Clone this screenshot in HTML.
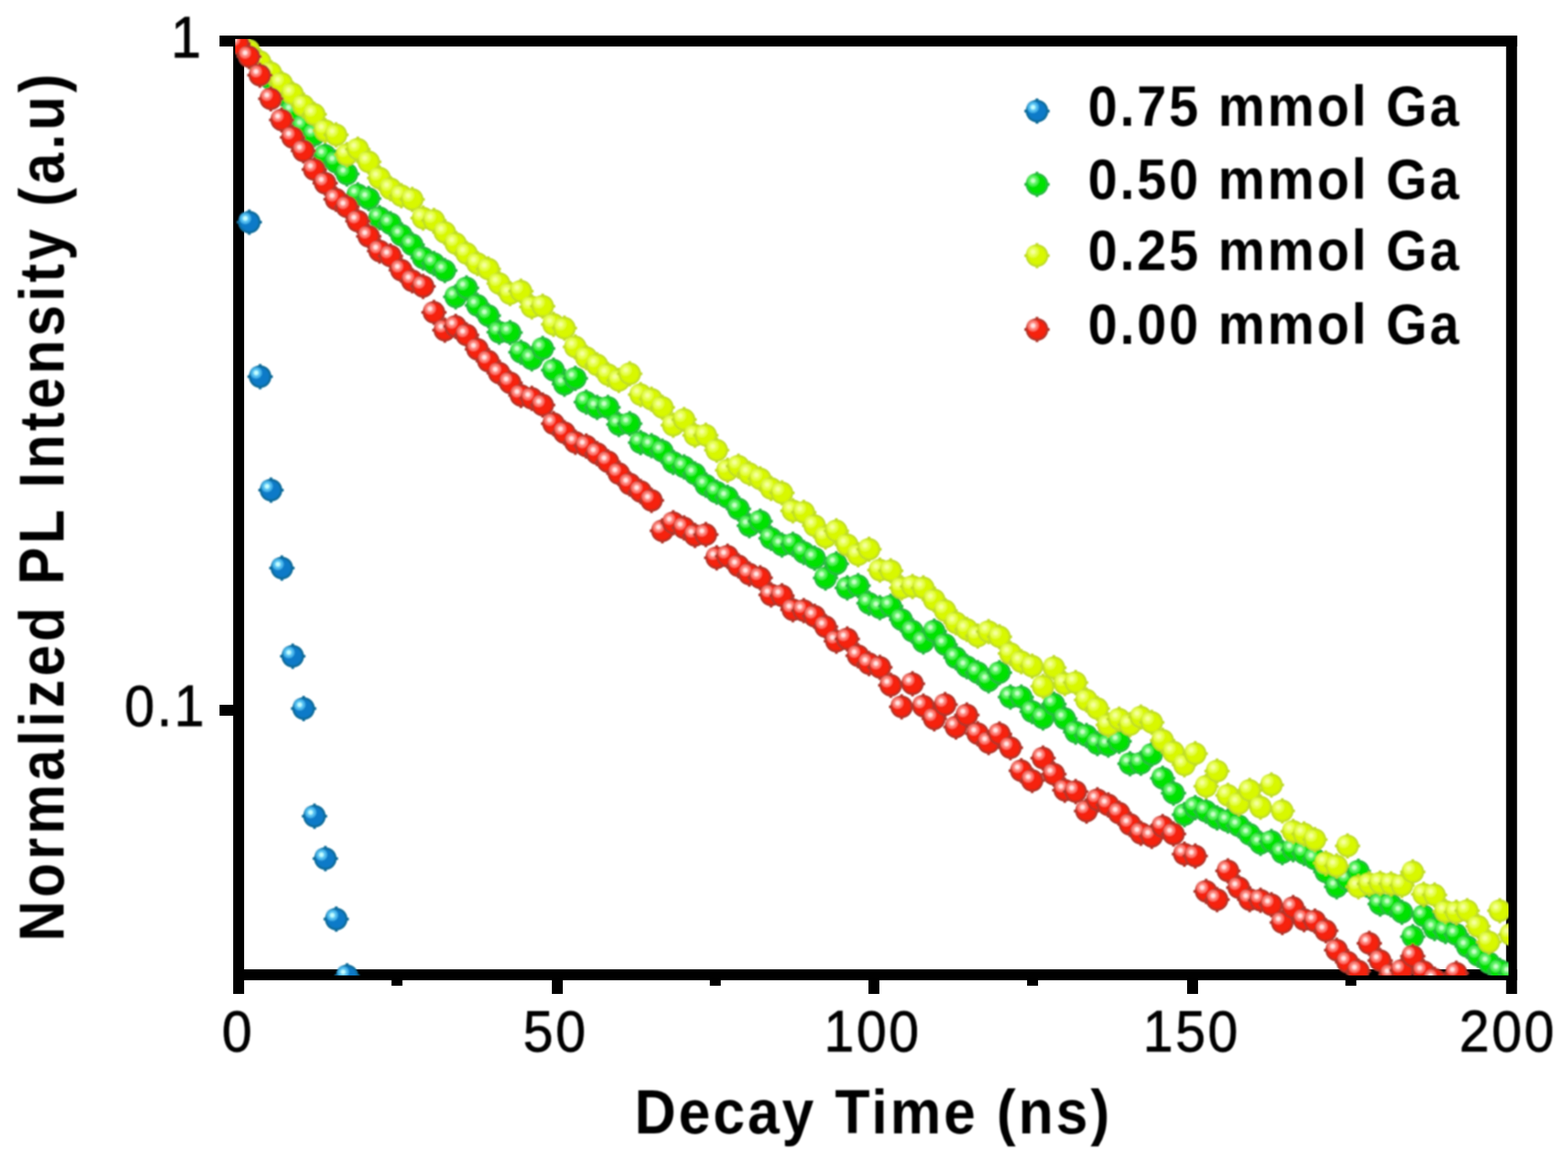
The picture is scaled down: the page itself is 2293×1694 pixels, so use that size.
<!DOCTYPE html>
<html lang="en">
<head>
<meta charset="utf-8">
<title>Normalized PL Intensity vs Decay Time</title>
<style>
html,body{margin:0;padding:0;background:#fff;}
body{width:2293px;height:1694px;overflow:hidden;}
svg{display:block;}
text{font-family:"Liberation Sans",Arial,Helvetica,sans-serif;fill:#000;}
.tick{font-size:85px;letter-spacing:3.7px;stroke:#000;stroke-width:1px;}
.title{font-weight:bold;}
#yt{stroke:none;}
#xt{stroke:none;}
.leg{font-size:83px;font-weight:bold;letter-spacing:4.0px;}
</style>
</head>
<body>
<svg width="2293" height="1694" viewBox="0 0 2293 1694">
<defs>
<radialGradient id="bB" cx="50%" cy="50%" r="50%">
<stop offset="0" stop-color="#0a7ac8"/><stop offset="0.72" stop-color="#0a7ac8"/><stop offset="0.9" stop-color="#086a98"/><stop offset="1" stop-color="#086a98"/>
</radialGradient>
<radialGradient id="hB" cx="50%" cy="50%" r="50%">
<stop offset="0" stop-color="#c4ffff"/><stop offset="0.2" stop-color="#c4ffff"/><stop offset="0.45" stop-color="#58c4f4"/><stop offset="0.7" stop-color="#58c4f4" stop-opacity="0.75"/><stop offset="1" stop-color="#0a7ac8" stop-opacity="0"/>
</radialGradient>
<g id="mB"><path d="M-2 -18.5h4v4h-4zM-2 14.5h4v4h-4zM-18.5 -2h4v4h-4zM14.5 -2h4v4h-4z" fill="#086a98"/><circle r="16.5" fill="url(#bB)"/><circle cx="-5.8" cy="-5.6" r="10.5" fill="url(#hB)"/></g>
<radialGradient id="bG" cx="50%" cy="50%" r="50%">
<stop offset="0" stop-color="#04e204"/><stop offset="0.72" stop-color="#04e204"/><stop offset="0.9" stop-color="#28b840"/><stop offset="1" stop-color="#28b840"/>
</radialGradient>
<radialGradient id="hG" cx="50%" cy="50%" r="50%">
<stop offset="0" stop-color="#c8ffc8"/><stop offset="0.2" stop-color="#c8ffc8"/><stop offset="0.45" stop-color="#62f468"/><stop offset="0.7" stop-color="#62f468" stop-opacity="0.75"/><stop offset="1" stop-color="#04e204" stop-opacity="0"/>
</radialGradient>
<g id="mG"><path d="M-2 -18.5h4v4h-4zM-2 14.5h4v4h-4zM-18.5 -2h4v4h-4zM14.5 -2h4v4h-4z" fill="#28b840"/><circle r="16.5" fill="url(#bG)"/><circle cx="-5.8" cy="-5.6" r="10.5" fill="url(#hG)"/></g>
<radialGradient id="bY" cx="50%" cy="50%" r="50%">
<stop offset="0" stop-color="#d8f804"/><stop offset="0.72" stop-color="#d8f804"/><stop offset="0.9" stop-color="#c0dc28"/><stop offset="1" stop-color="#c0dc28"/>
</radialGradient>
<radialGradient id="hY" cx="50%" cy="50%" r="50%">
<stop offset="0" stop-color="#f6ff9c"/><stop offset="0.2" stop-color="#f6ff9c"/><stop offset="0.45" stop-color="#e8ff58"/><stop offset="0.7" stop-color="#e8ff58" stop-opacity="0.75"/><stop offset="1" stop-color="#d8f804" stop-opacity="0"/>
</radialGradient>
<g id="mY"><path d="M-2 -18.5h4v4h-4zM-2 14.5h4v4h-4zM-18.5 -2h4v4h-4zM14.5 -2h4v4h-4z" fill="#c0dc28"/><circle r="16.5" fill="url(#bY)"/><circle cx="-5.8" cy="-5.6" r="10.5" fill="url(#hY)"/></g>
<radialGradient id="bR" cx="50%" cy="50%" r="50%">
<stop offset="0" stop-color="#f6200e"/><stop offset="0.72" stop-color="#f6200e"/><stop offset="0.9" stop-color="#b0362a"/><stop offset="1" stop-color="#b0362a"/>
</radialGradient>
<radialGradient id="hR" cx="50%" cy="50%" r="50%">
<stop offset="0" stop-color="#ffe6e4"/><stop offset="0.2" stop-color="#ffe6e4"/><stop offset="0.45" stop-color="#ff8a82"/><stop offset="0.7" stop-color="#ff8a82" stop-opacity="0.75"/><stop offset="1" stop-color="#f6200e" stop-opacity="0"/>
</radialGradient>
<g id="mR"><path d="M-2 -18.5h4v4h-4zM-2 14.5h4v4h-4zM-18.5 -2h4v4h-4zM14.5 -2h4v4h-4z" fill="#b0362a"/><circle r="16.5" fill="url(#bR)"/><circle cx="-5.8" cy="-5.6" r="10.5" fill="url(#hR)"/></g>
<clipPath id="plot"><rect x="344" y="57" width="1862" height="1370"/></clipPath>
<filter id="ft" x="-5%" y="-5%" width="110%" height="110%"><feGaussianBlur stdDeviation="1.1"/></filter>
<filter id="fd" x="-5%" y="-5%" width="110%" height="110%"><feGaussianBlur stdDeviation="1.0"/></filter>
</defs>
<rect x="0" y="0" width="2293" height="1694" fill="#ffffff"/>
<g id="axes" fill="#000">
<rect x="341" y="52" width="16" height="1402"/>
<rect x="2202.5" y="52" width="16" height="1402"/>
<rect x="321" y="52" width="1897.5" height="16"/>
<rect x="341" y="1418" width="1877.5" height="16"/>
<rect x="321" y="1031" width="22" height="16"/>
<rect x="807" y="1430" width="16" height="24"/>
<rect x="1270" y="1430" width="16" height="24"/>
<rect x="1736" y="1430" width="16" height="24"/>
<rect x="572.5" y="1430" width="16" height="12"/>
<rect x="1038" y="1430" width="16" height="12"/>
<rect x="1502" y="1430" width="16" height="12"/>
<rect x="1967.5" y="1430" width="16" height="12"/>
</g>
<g id="labels" filter="url(#ft)">
<text class="tick" id="t1" transform="translate(250 83.5) scale(0.93 1)">1</text>
<text class="tick" id="t01" transform="translate(182 1062) scale(0.93 1)">0.1</text>
<text class="tick" id="x0" transform="translate(324.5 1537.5) scale(0.93 1)">0</text>
<text class="tick" id="x50" transform="translate(765 1537.5) scale(0.93 1)">50</text>
<text class="tick" id="x100" transform="translate(1205 1537.5) scale(0.93 1)">100</text>
<text class="tick" id="x150" transform="translate(1671.5 1537.5) scale(0.93 1)">150</text>
<text class="tick" id="x200" transform="translate(2134 1537.5) scale(0.93 1)">200</text>
<text class="title" id="xt" font-size="91" letter-spacing="4.2" transform="translate(928 1657.5) scale(0.92 1)">Decay Time (ns)</text>
<text class="title" id="yt" font-size="93" letter-spacing="5.98" transform="translate(93 1377) rotate(-90) scale(0.88 1)">Normalized PL Intensity (a.u)</text>
</g>
<g id="data" clip-path="url(#plot)"><g filter="url(#fd)">
<g id="s075">
<use href="#mB" x="348.6" y="60"/>
<use href="#mB" x="364.5" y="325.0"/>
<use href="#mB" x="380.4" y="551.0"/>
<use href="#mB" x="396.3" y="717.0"/>
<use href="#mB" x="412.2" y="831.0"/>
<use href="#mB" x="428.1" y="960.0"/>
<use href="#mB" x="444.0" y="1036.5"/>
<use href="#mB" x="459.9" y="1194.0"/>
<use href="#mB" x="475.8" y="1256.0"/>
<use href="#mB" x="491.7" y="1344.5"/>
<use href="#mB" x="507.6" y="1427.5"/>
</g>
<g id="s050">
<use href="#mG" x="348.3" y="63.2"/>
<use href="#mG" x="364.2" y="75.9"/>
<use href="#mG" x="380.1" y="94.6"/>
<use href="#mG" x="396.0" y="115.5"/>
<use href="#mG" x="411.9" y="137.3"/>
<use href="#mG" x="427.8" y="162.7"/>
<use href="#mG" x="443.7" y="184.5"/>
<use href="#mG" x="459.6" y="197.2"/>
<use href="#mG" x="475.5" y="227.2"/>
<use href="#mG" x="491.4" y="237.2"/>
<use href="#mG" x="507.3" y="254.5"/>
<use href="#mG" x="523.3" y="284.9"/>
<use href="#mG" x="539.2" y="290.4"/>
<use href="#mG" x="555.1" y="318.5"/>
<use href="#mG" x="571.0" y="327.2"/>
<use href="#mG" x="586.9" y="343.9"/>
<use href="#mG" x="602.8" y="358.1"/>
<use href="#mG" x="618.7" y="377.2"/>
<use href="#mG" x="634.6" y="385.4"/>
<use href="#mG" x="650.5" y="395.8"/>
<use href="#mG" x="666.4" y="434.3"/>
<use href="#mG" x="682.3" y="421.2"/>
<use href="#mG" x="698.2" y="446.8"/>
<use href="#mG" x="714.1" y="461.7"/>
<use href="#mG" x="730.0" y="486.0"/>
<use href="#mG" x="745.9" y="486.4"/>
<use href="#mG" x="761.8" y="515.2"/>
<use href="#mG" x="777.7" y="525.0"/>
<use href="#mG" x="793.6" y="509.8"/>
<use href="#mG" x="809.5" y="541.4"/>
<use href="#mG" x="825.4" y="562.1"/>
<use href="#mG" x="841.4" y="553.4"/>
<use href="#mG" x="857.3" y="588.2"/>
<use href="#mG" x="873.2" y="595.9"/>
<use href="#mG" x="889.1" y="595.9"/>
<use href="#mG" x="905.0" y="620.9"/>
<use href="#mG" x="920.9" y="619.8"/>
<use href="#mG" x="936.8" y="647.6"/>
<use href="#mG" x="952.7" y="651.9"/>
<use href="#mG" x="968.6" y="660.1"/>
<use href="#mG" x="984.5" y="676.4"/>
<use href="#mG" x="1000.4" y="683.0"/>
<use href="#mG" x="1016.3" y="693.3"/>
<use href="#mG" x="1032.2" y="709.7"/>
<use href="#mG" x="1048.1" y="720.0"/>
<use href="#mG" x="1064.0" y="727.6"/>
<use href="#mG" x="1079.9" y="744.5"/>
<use href="#mG" x="1095.8" y="769.0"/>
<use href="#mG" x="1111.7" y="762.5"/>
<use href="#mG" x="1127.6" y="787.5"/>
<use href="#mG" x="1143.5" y="797.3"/>
<use href="#mG" x="1159.5" y="796.2"/>
<use href="#mG" x="1175.4" y="808.2"/>
<use href="#mG" x="1191.3" y="816.5"/>
<use href="#mG" x="1207.2" y="845.4"/>
<use href="#mG" x="1223.1" y="824.7"/>
<use href="#mG" x="1239.0" y="860.1"/>
<use href="#mG" x="1254.9" y="856.8"/>
<use href="#mG" x="1270.8" y="882.4"/>
<use href="#mG" x="1286.7" y="889.0"/>
<use href="#mG" x="1302.6" y="886.8"/>
<use href="#mG" x="1318.5" y="906.4"/>
<use href="#mG" x="1334.4" y="923.3"/>
<use href="#mG" x="1350.3" y="939.1"/>
<use href="#mG" x="1366.2" y="923.3"/>
<use href="#mG" x="1382.1" y="942.9"/>
<use href="#mG" x="1398.0" y="962.1"/>
<use href="#mG" x="1413.9" y="975.2"/>
<use href="#mG" x="1429.8" y="983.9"/>
<use href="#mG" x="1445.7" y="995.9"/>
<use href="#mG" x="1461.6" y="983.9"/>
<use href="#mG" x="1477.6" y="1019.8"/>
<use href="#mG" x="1493.5" y="1019.8"/>
<use href="#mG" x="1509.4" y="1041.0"/>
<use href="#mG" x="1525.3" y="1050.3"/>
<use href="#mG" x="1541.2" y="1030.1"/>
<use href="#mG" x="1557.1" y="1051.3"/>
<use href="#mG" x="1573.0" y="1071.0"/>
<use href="#mG" x="1588.9" y="1075.9"/>
<use href="#mG" x="1604.8" y="1087.8"/>
<use href="#mG" x="1620.7" y="1090.0"/>
<use href="#mG" x="1636.6" y="1084.6"/>
<use href="#mG" x="1652.5" y="1117.3"/>
<use href="#mG" x="1668.4" y="1116.6"/>
<use href="#mG" x="1684.3" y="1103.6"/>
<use href="#mG" x="1700.2" y="1138.4"/>
<use href="#mG" x="1716.1" y="1160.2"/>
<use href="#mG" x="1732.0" y="1191.8"/>
<use href="#mG" x="1747.9" y="1181.4"/>
<use href="#mG" x="1763.8" y="1186.8"/>
<use href="#mG" x="1779.8" y="1196.6"/>
<use href="#mG" x="1795.7" y="1201.0"/>
<use href="#mG" x="1811.6" y="1208.1"/>
<use href="#mG" x="1827.5" y="1220.6"/>
<use href="#mG" x="1843.4" y="1233.7"/>
<use href="#mG" x="1859.3" y="1231.0"/>
<use href="#mG" x="1875.2" y="1247.3"/>
<use href="#mG" x="1891.1" y="1242.9"/>
<use href="#mG" x="1907.0" y="1248.4"/>
<use href="#mG" x="1922.9" y="1256.6"/>
<use href="#mG" x="1938.8" y="1275.6"/>
<use href="#mG" x="1954.7" y="1297.3"/>
<use href="#mG" x="1970.6" y="1286.4"/>
<use href="#mG" x="1986.5" y="1274.5"/>
<use href="#mG" x="2002.4" y="1297.3"/>
<use href="#mG" x="2018.3" y="1322.4"/>
<use href="#mG" x="2034.2" y="1323.5"/>
<use href="#mG" x="2050.1" y="1334.4"/>
<use href="#mG" x="2066.0" y="1370.3"/>
<use href="#mG" x="2081.9" y="1339.8"/>
<use href="#mG" x="2097.9" y="1358.3"/>
<use href="#mG" x="2113.8" y="1362.7"/>
<use href="#mG" x="2129.7" y="1367.1"/>
<use href="#mG" x="2145.6" y="1384.5"/>
<use href="#mG" x="2161.5" y="1397.6"/>
<use href="#mG" x="2177.4" y="1408.5"/>
<use href="#mG" x="2193.3" y="1419.4"/>
<use href="#mG" x="2209.2" y="1423.7"/>
</g>
<g id="s025">
<use href="#mY" x="348.3" y="62.9"/>
<use href="#mY" x="364.2" y="73.8"/>
<use href="#mY" x="380.1" y="90.1"/>
<use href="#mY" x="396.0" y="106.4"/>
<use href="#mY" x="411.9" y="121.9"/>
<use href="#mY" x="427.8" y="137.3"/>
<use href="#mY" x="443.7" y="154.6"/>
<use href="#mY" x="459.6" y="167.3"/>
<use href="#mY" x="475.5" y="190.9"/>
<use href="#mY" x="491.4" y="197.2"/>
<use href="#mY" x="507.3" y="226.3"/>
<use href="#mY" x="523.3" y="218.2"/>
<use href="#mY" x="539.2" y="236.8"/>
<use href="#mY" x="555.1" y="260.4"/>
<use href="#mY" x="571.0" y="275.9"/>
<use href="#mY" x="586.9" y="286.3"/>
<use href="#mY" x="602.8" y="291.7"/>
<use href="#mY" x="618.7" y="319.1"/>
<use href="#mY" x="634.6" y="322.6"/>
<use href="#mY" x="650.5" y="339.9"/>
<use href="#mY" x="666.4" y="356.3"/>
<use href="#mY" x="682.3" y="370.8"/>
<use href="#mY" x="698.2" y="385.4"/>
<use href="#mY" x="714.1" y="393.5"/>
<use href="#mY" x="730.0" y="414.7"/>
<use href="#mY" x="745.9" y="429.6"/>
<use href="#mY" x="761.8" y="426.1"/>
<use href="#mY" x="777.7" y="448.9"/>
<use href="#mY" x="793.6" y="447.9"/>
<use href="#mY" x="809.5" y="474.6"/>
<use href="#mY" x="825.4" y="480.1"/>
<use href="#mY" x="841.4" y="507.6"/>
<use href="#mY" x="857.3" y="522.9"/>
<use href="#mY" x="873.2" y="533.8"/>
<use href="#mY" x="889.1" y="547.9"/>
<use href="#mY" x="905.0" y="556.6"/>
<use href="#mY" x="920.9" y="546.8"/>
<use href="#mY" x="936.8" y="577.3"/>
<use href="#mY" x="952.7" y="583.9"/>
<use href="#mY" x="968.6" y="595.9"/>
<use href="#mY" x="984.5" y="622.0"/>
<use href="#mY" x="1000.4" y="613.8"/>
<use href="#mY" x="1016.3" y="636.7"/>
<use href="#mY" x="1032.2" y="636.7"/>
<use href="#mY" x="1048.1" y="658.5"/>
<use href="#mY" x="1064.0" y="687.9"/>
<use href="#mY" x="1079.9" y="681.9"/>
<use href="#mY" x="1095.8" y="692.8"/>
<use href="#mY" x="1111.7" y="700.4"/>
<use href="#mY" x="1127.6" y="714.5"/>
<use href="#mY" x="1143.5" y="721.1"/>
<use href="#mY" x="1159.5" y="747.2"/>
<use href="#mY" x="1175.4" y="749.4"/>
<use href="#mY" x="1191.3" y="769.0"/>
<use href="#mY" x="1207.2" y="785.5"/>
<use href="#mY" x="1223.1" y="776.6"/>
<use href="#mY" x="1239.0" y="796.9"/>
<use href="#mY" x="1254.9" y="811.6"/>
<use href="#mY" x="1270.8" y="803.5"/>
<use href="#mY" x="1286.7" y="834.0"/>
<use href="#mY" x="1302.6" y="835.0"/>
<use href="#mY" x="1318.5" y="860.1"/>
<use href="#mY" x="1334.4" y="857.9"/>
<use href="#mY" x="1350.3" y="860.1"/>
<use href="#mY" x="1366.2" y="877.5"/>
<use href="#mY" x="1382.1" y="893.3"/>
<use href="#mY" x="1398.0" y="910.9"/>
<use href="#mY" x="1413.9" y="920.7"/>
<use href="#mY" x="1429.8" y="930.5"/>
<use href="#mY" x="1445.7" y="924.0"/>
<use href="#mY" x="1461.6" y="931.6"/>
<use href="#mY" x="1477.6" y="956.0"/>
<use href="#mY" x="1493.5" y="968.0"/>
<use href="#mY" x="1509.4" y="974.5"/>
<use href="#mY" x="1525.3" y="1004.0"/>
<use href="#mY" x="1541.2" y="976.7"/>
<use href="#mY" x="1557.1" y="1000.1"/>
<use href="#mY" x="1573.0" y="998.5"/>
<use href="#mY" x="1588.9" y="1024.1"/>
<use href="#mY" x="1604.8" y="1036.6"/>
<use href="#mY" x="1620.7" y="1060.6"/>
<use href="#mY" x="1636.6" y="1051.9"/>
<use href="#mY" x="1652.5" y="1060.1"/>
<use href="#mY" x="1668.4" y="1049.1"/>
<use href="#mY" x="1684.3" y="1056.7"/>
<use href="#mY" x="1700.2" y="1082.9"/>
<use href="#mY" x="1716.1" y="1100.3"/>
<use href="#mY" x="1732.0" y="1118.8"/>
<use href="#mY" x="1747.9" y="1102.5"/>
<use href="#mY" x="1763.8" y="1150.3"/>
<use href="#mY" x="1779.8" y="1128.0"/>
<use href="#mY" x="1795.7" y="1163.4"/>
<use href="#mY" x="1811.6" y="1175.4"/>
<use href="#mY" x="1827.5" y="1156.3"/>
<use href="#mY" x="1843.4" y="1180.8"/>
<use href="#mY" x="1859.3" y="1148.2"/>
<use href="#mY" x="1875.2" y="1186.3"/>
<use href="#mY" x="1891.1" y="1216.2"/>
<use href="#mY" x="1907.0" y="1220.1"/>
<use href="#mY" x="1922.9" y="1228.2"/>
<use href="#mY" x="1938.8" y="1262.5"/>
<use href="#mY" x="1954.7" y="1266.8"/>
<use href="#mY" x="1970.6" y="1237.4"/>
<use href="#mY" x="1986.5" y="1297.3"/>
<use href="#mY" x="2002.4" y="1293.0"/>
<use href="#mY" x="2018.3" y="1291.9"/>
<use href="#mY" x="2034.2" y="1293.0"/>
<use href="#mY" x="2050.1" y="1295.2"/>
<use href="#mY" x="2066.0" y="1275.6"/>
<use href="#mY" x="2081.9" y="1308.2"/>
<use href="#mY" x="2097.9" y="1309.3"/>
<use href="#mY" x="2113.8" y="1333.3"/>
<use href="#mY" x="2129.7" y="1334.4"/>
<use href="#mY" x="2145.6" y="1332.2"/>
<use href="#mY" x="2161.5" y="1355.1"/>
<use href="#mY" x="2177.4" y="1378.0"/>
<use href="#mY" x="2193.3" y="1332.2"/>
<use href="#mY" x="2209.2" y="1367.1"/>
</g>
<g id="s000">
<use href="#mR" x="348.3" y="63.8"/>
<use href="#mR" x="364.2" y="82.8"/>
<use href="#mR" x="380.1" y="110.1"/>
<use href="#mR" x="396.0" y="144.6"/>
<use href="#mR" x="411.9" y="175.4"/>
<use href="#mR" x="427.8" y="200.9"/>
<use href="#mR" x="443.7" y="220.8"/>
<use href="#mR" x="459.6" y="248.1"/>
<use href="#mR" x="475.5" y="268.0"/>
<use href="#mR" x="491.4" y="291.6"/>
<use href="#mR" x="507.3" y="302.6"/>
<use href="#mR" x="523.3" y="323.5"/>
<use href="#mR" x="539.2" y="345.8"/>
<use href="#mR" x="555.1" y="367.2"/>
<use href="#mR" x="571.0" y="374.5"/>
<use href="#mR" x="586.9" y="395.3"/>
<use href="#mR" x="602.8" y="410.8"/>
<use href="#mR" x="618.7" y="418.9"/>
<use href="#mR" x="634.6" y="457.1"/>
<use href="#mR" x="650.5" y="483.1"/>
<use href="#mR" x="666.4" y="477.6"/>
<use href="#mR" x="682.3" y="490.0"/>
<use href="#mR" x="698.2" y="510.9"/>
<use href="#mR" x="714.1" y="528.3"/>
<use href="#mR" x="730.0" y="545.7"/>
<use href="#mR" x="745.9" y="559.9"/>
<use href="#mR" x="761.8" y="578.4"/>
<use href="#mR" x="777.7" y="582.8"/>
<use href="#mR" x="793.6" y="592.6"/>
<use href="#mR" x="809.5" y="619.8"/>
<use href="#mR" x="825.4" y="632.9"/>
<use href="#mR" x="841.4" y="647.1"/>
<use href="#mR" x="857.3" y="652.5"/>
<use href="#mR" x="873.2" y="663.4"/>
<use href="#mR" x="889.1" y="675.4"/>
<use href="#mR" x="905.0" y="692.8"/>
<use href="#mR" x="920.9" y="708.0"/>
<use href="#mR" x="936.8" y="718.9"/>
<use href="#mR" x="952.7" y="732.0"/>
<use href="#mR" x="968.6" y="776.6"/>
<use href="#mR" x="984.5" y="764.7"/>
<use href="#mR" x="1000.4" y="772.3"/>
<use href="#mR" x="1016.3" y="783.2"/>
<use href="#mR" x="1032.2" y="782.1"/>
<use href="#mR" x="1048.1" y="815.9"/>
<use href="#mR" x="1064.0" y="813.7"/>
<use href="#mR" x="1079.9" y="827.8"/>
<use href="#mR" x="1095.8" y="839.8"/>
<use href="#mR" x="1111.7" y="845.3"/>
<use href="#mR" x="1127.6" y="870.3"/>
<use href="#mR" x="1143.5" y="871.4"/>
<use href="#mR" x="1159.5" y="892.1"/>
<use href="#mR" x="1175.4" y="893.2"/>
<use href="#mR" x="1191.3" y="901.5"/>
<use href="#mR" x="1207.2" y="916.8"/>
<use href="#mR" x="1223.1" y="938.0"/>
<use href="#mR" x="1239.0" y="934.7"/>
<use href="#mR" x="1254.9" y="959.2"/>
<use href="#mR" x="1270.8" y="970.8"/>
<use href="#mR" x="1286.7" y="976.2"/>
<use href="#mR" x="1302.6" y="1002.4"/>
<use href="#mR" x="1318.5" y="1034.0"/>
<use href="#mR" x="1334.4" y="1000.2"/>
<use href="#mR" x="1350.3" y="1032.9"/>
<use href="#mR" x="1366.2" y="1051.4"/>
<use href="#mR" x="1382.1" y="1030.7"/>
<use href="#mR" x="1398.0" y="1063.4"/>
<use href="#mR" x="1413.9" y="1046.0"/>
<use href="#mR" x="1429.8" y="1073.2"/>
<use href="#mR" x="1445.7" y="1086.3"/>
<use href="#mR" x="1461.6" y="1073.7"/>
<use href="#mR" x="1477.6" y="1093.8"/>
<use href="#mR" x="1493.5" y="1127.6"/>
<use href="#mR" x="1509.4" y="1141.8"/>
<use href="#mR" x="1525.3" y="1109.1"/>
<use href="#mR" x="1541.2" y="1132.5"/>
<use href="#mR" x="1557.1" y="1155.9"/>
<use href="#mR" x="1573.0" y="1158.0"/>
<use href="#mR" x="1588.9" y="1186.4"/>
<use href="#mR" x="1604.8" y="1170.0"/>
<use href="#mR" x="1620.7" y="1177.6"/>
<use href="#mR" x="1636.6" y="1189.6"/>
<use href="#mR" x="1652.5" y="1206.0"/>
<use href="#mR" x="1668.4" y="1219.0"/>
<use href="#mR" x="1684.3" y="1223.4"/>
<use href="#mR" x="1700.2" y="1209.2"/>
<use href="#mR" x="1716.1" y="1220.1"/>
<use href="#mR" x="1732.0" y="1249.5"/>
<use href="#mR" x="1747.9" y="1252.2"/>
<use href="#mR" x="1763.8" y="1303.9"/>
<use href="#mR" x="1779.8" y="1315.9"/>
<use href="#mR" x="1795.7" y="1274.0"/>
<use href="#mR" x="1811.6" y="1298.5"/>
<use href="#mR" x="1827.5" y="1315.9"/>
<use href="#mR" x="1843.4" y="1316.9"/>
<use href="#mR" x="1859.3" y="1323.5"/>
<use href="#mR" x="1875.2" y="1349.6"/>
<use href="#mR" x="1891.1" y="1327.8"/>
<use href="#mR" x="1907.0" y="1345.3"/>
<use href="#mR" x="1922.9" y="1347.5"/>
<use href="#mR" x="1938.8" y="1361.6"/>
<use href="#mR" x="1954.7" y="1389.9"/>
<use href="#mR" x="1970.6" y="1407.4"/>
<use href="#mR" x="1986.5" y="1420.4"/>
<use href="#mR" x="2002.4" y="1380.1"/>
<use href="#mR" x="2018.3" y="1405.2"/>
<use href="#mR" x="2034.2" y="1425.9"/>
<use href="#mR" x="2050.1" y="1419.4"/>
<use href="#mR" x="2066.0" y="1398.7"/>
<use href="#mR" x="2081.9" y="1421.5"/>
<use href="#mR" x="2097.9" y="1432.4"/>
<use href="#mR" x="2129.7" y="1423.7"/>
</g>
</g></g>
<g id="legend" filter="url(#ft)">
<use href="#mB" x="1516.5" y="162.5"/>
<text class="leg" transform="translate(1591 184) scale(0.93 1)">0.75 mmol Ga</text>
<use href="#mG" x="1516.5" y="269.8"/>
<text class="leg" transform="translate(1591 291) scale(0.93 1)">0.50 mmol Ga</text>
<use href="#mY" x="1516.5" y="374"/>
<text class="leg" transform="translate(1591 395) scale(0.93 1)">0.25 mmol Ga</text>
<use href="#mR" x="1516.5" y="482"/>
<text class="leg" transform="translate(1591 503) scale(0.93 1)">0.00 mmol Ga</text>
</g>
</svg>
</body>
</html>
